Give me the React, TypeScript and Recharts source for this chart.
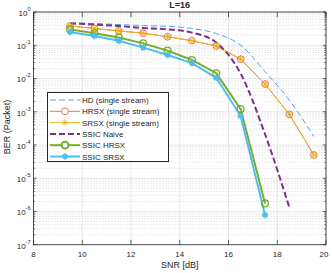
import { LineChart, Line, XAxis, YAxis, CartesianGrid, ReferenceLine } from 'recharts'

const snr = [9.5, 10.5, 11.5, 12.5, 13.5, 14.5, 15.5, 16.5, 17.5, 18.5, 19.5]
const hd = [0.47, 0.45, 0.42, 0.39, 0.37, 0.32, 0.225, 0.1, 0.016, 0.0022, 0.00018]
const hrsx = [0.38, 0.32, 0.27, 0.23, 0.18, 0.137, 0.095, 0.038, 0.0068, 0.00083, 0.00005]
const srsx = [0.38, 0.32, 0.27, 0.23, 0.18, 0.137, 0.095, 0.038, 0.0068, 0.00083, 0.00005]
const ssicNaive = [0.45, 0.42, 0.38, 0.33, 0.3, 0.24, 0.12, 0.014, 0.00021, 0.0000013, null]
const ssicHrsx = [0.3, 0.23, 0.17, 0.114, 0.069, 0.036, 0.0144, 0.0012, 0.00000175, null, null]
const ssicSrsx = [0.25, 0.19, 0.137, 0.085, 0.051, 0.029, 0.0105, 0.00074, 0.00000078, null, null]

const xTicks = [8, 10, 12, 14, 16, 18, 20]
const yTicks = [1e-7, 1e-6, 1e-5, 1e-4, 1e-3, 1e-2, 1e-1, 1]

const C = {
  hd: '#4DA6E8',
  hrsx: '#E8784A',
  srsx: '#EDB120',
  naive: '#7E2F8E',
  ssicH: '#77AC30',
  ssicS: '#4DBEEE',
  axis: '#262626',
  grid: '#e3e3e3',
  minor: '#cfcfcf',
}
const FONT = '"Liberation Sans", Arial, Helvetica, sans-serif'

const data = snr.map((s, i) => ({
  snr: s,
  hd: hd[i],
  hrsx: hrsx[i],
  srsx: srsx[i],
  naive: ssicNaive[i],
  ssicH: ssicHrsx[i],
  ssicS: ssicSrsx[i],
}))

// minor decade values 2..9 x 10^k
const minorY: number[] = []
for (let k = -7; k < 0; k++) for (let m = 2; m <= 9; m++) minorY.push(m * Math.pow(10, k))

function Circle(color: string, w = 1) {
  return (p: any) => {
    if (p.cx == null || p.cy == null || p.value == null) return <g key={p.key ?? p.index} />
    return <circle key={p.key ?? p.index} cx={p.cx} cy={p.cy} r={3.4} fill="none" stroke={color} strokeWidth={w} />
  }
}

function starPath(cx: number, cy: number, r: number) {
  const d = r * 0.707
  return `M${cx - r},${cy}L${cx + r},${cy}M${cx},${cy - r}L${cx},${cy + r}M${cx - d},${cy - d}L${cx + d},${cy + d}M${cx - d},${cy + d}L${cx + d},${cy - d}`
}

function Star(color: string, w = 1, fill = false) {
  return (p: any) => {
    if (p.cx == null || p.cy == null || p.value == null) return <g key={p.key ?? p.index} />
    return (
      <g key={p.key ?? p.index}>
        {fill && <circle cx={p.cx} cy={p.cy} r={2.4} fill={color} />}
        <path d={starPath(p.cx, p.cy, 3.2)} stroke={color} strokeWidth={w} fill="none" />
      </g>
    )
  }
}

function YTick({ x, y, payload }: any) {
  const e = Math.round(Math.log10(payload.value))
  return (
    <text x={x - 3} y={y + 4} textAnchor="end" fill={C.axis} fontSize={8} fontFamily={FONT}>
      10
      <tspan dy={-5} fontSize={5.5}>{e}</tspan>
    </text>
  )
}

function XTick({ x, y, payload }: any) {
  return (
    <text x={x} y={y + 12} textAnchor="middle" fill={C.axis} fontSize={8} fontFamily={FONT}>
      {payload.value}
    </text>
  )
}

const LEGEND = [
  { label: 'HD (single stream)', color: C.hd, dash: '6 3', w: 1, marker: 'none' },
  { label: 'HRSX (single stream)', color: C.hrsx, dash: '', w: 1, marker: 'circle' },
  { label: 'SRSX (single stream)', color: C.srsx, dash: '', w: 1, marker: 'star' },
  { label: 'SSIC Naive', color: C.naive, dash: '6 3', w: 2, marker: 'none' },
  { label: 'SSIC HRSX', color: C.ssicH, dash: '', w: 2, marker: 'circle' },
  { label: 'SSIC SRSX', color: C.ssicS, dash: '', w: 2, marker: 'starfill' },
]

function LegendBox() {
  return (
    <div
      style={{
        position: 'absolute',
        left: 47,
        top: 92,
        width: 122,
        height: 70,
        boxSizing: 'border-box',
        border: `0.8px solid ${C.axis}`,
        background: '#fff',
      }}
    >
      <svg width={122} height={70} style={{ position: 'absolute', left: -0.8, top: -0.8 }}>
        {LEGEND.map((l, i) => {
          const cy = 8 + i * 11.3
          return (
            <g key={l.label}>
              <line x1={3} x2={33} y1={cy} y2={cy} stroke={l.color} strokeWidth={l.w} strokeDasharray={l.dash || undefined} />
              {l.marker === 'circle' && <circle cx={18} cy={cy} r={3.4} fill="#fff" stroke={l.color} strokeWidth={l.w} />}
              {l.marker === 'star' && <path d={starPath(18, cy, 3.2)} stroke={l.color} strokeWidth={1} />}
              {l.marker === 'starfill' && (
                <g>
                  <circle cx={18} cy={cy} r={2.4} fill={l.color} />
                  <path d={starPath(18, cy, 3.2)} stroke={l.color} strokeWidth={1.5} />
                </g>
              )}
              <text x={35} y={cy + 3} fontSize={8} fontFamily={FONT} fill={C.axis}>
                {l.label}
              </text>
            </g>
          )
        })}
      </svg>
    </div>
  )
}

export default function App() {
  return (
    <div style={{ position: 'absolute', left: 0, top: 0, width: 332, height: 273, background: '#fff' }}>
      <LineChart width={332} height={273} data={data} margin={{ top: 12, right: 6, bottom: 0, left: 0 }}>
        <CartesianGrid stroke={C.grid} strokeWidth={0.8} />
        {minorY.map((v) => (
          <ReferenceLine key={v} y={v} stroke={C.minor} strokeWidth={0.8} strokeDasharray="1 2" />
        ))}
        {minorY.map((v) => (
          <ReferenceLine
            key={'tl' + v}
            segment={[{ x: 8, y: v }, { x: 8.07, y: v }]}
            stroke={C.axis}
            strokeWidth={0.6}
          />
        ))}
        {minorY.map((v) => (
          <ReferenceLine
            key={'tr' + v}
            segment={[{ x: 19.93, y: v }, { x: 20, y: v }]}
            stroke={C.axis}
            strokeWidth={0.6}
          />
        ))}
        {yTicks.map((v) => (
          <ReferenceLine key={'ml' + v} segment={[{ x: 8, y: v }, { x: 8.13, y: v }]} stroke={C.axis} strokeWidth={0.7} />
        ))}
        {yTicks.map((v) => (
          <ReferenceLine key={'mr' + v} segment={[{ x: 19.87, y: v }, { x: 20, y: v }]} stroke={C.axis} strokeWidth={0.7} />
        ))}
        {xTicks.map((v) => (
          <ReferenceLine key={'xb' + v} segment={[{ x: v, y: 1e-7 }, { x: v, y: 1.4e-7 }]} stroke={C.axis} strokeWidth={0.7} />
        ))}
        {xTicks.map((v) => (
          <ReferenceLine key={'xt' + v} segment={[{ x: v, y: 0.7 }, { x: v, y: 1 }]} stroke={C.axis} strokeWidth={0.7} />
        ))}
        <ReferenceLine y={1} stroke={C.axis} strokeWidth={0.8} />
        <ReferenceLine x={20} stroke={C.axis} strokeWidth={0.8} />
        <XAxis
          type="number"
          dataKey="snr"
          domain={[8, 20]}
          ticks={xTicks}
          allowDataOverflow
          height={28.3}
          tickSize={0}
          tickMargin={0}
          tickLine={false}
          axisLine={{ stroke: C.axis, strokeWidth: 0.8 }}
          tick={<XTick />}
          label={{ value: 'SNR [dB]', position: 'insideBottom', offset: 5, fill: C.axis, fontSize: 9, fontFamily: FONT }}
        />
        <YAxis
          type="number"
          scale="log"
          domain={[1e-7, 1]}
          ticks={yTicks}
          allowDataOverflow
          width={33.5}
          tickSize={0}
          tickMargin={0}
          tickLine={false}
          axisLine={{ stroke: C.axis, strokeWidth: 0.8 }}
          tick={<YTick />}
          label={{
            value: 'BER (Packet)',
            angle: -90,
            position: 'insideLeft',
            offset: 7,
            dy: 26,
            fill: C.axis,
            fontSize: 9,
            fontFamily: FONT,
          }}
        />
        <Line
          dataKey="hd"
          type="monotone"
          stroke={C.hd}
          strokeWidth={1}
          strokeDasharray="6 3"
          dot={false}
          isAnimationActive={false}
        />
        <Line
          dataKey="hrsx"
          type="linear"
          stroke={C.hrsx}
          strokeWidth={1}
          dot={Circle(C.hrsx, 1)}
          isAnimationActive={false}
        />
        <Line
          dataKey="srsx"
          type="linear"
          stroke={C.srsx}
          strokeWidth={1}
          dot={Star(C.srsx, 1)}
          isAnimationActive={false}
        />
        <Line
          dataKey="naive"
          type="monotone"
          stroke={C.naive}
          strokeWidth={2}
          strokeDasharray="6 3"
          dot={false}
          isAnimationActive={false}
        />
        <Line
          dataKey="ssicH"
          type="linear"
          stroke={C.ssicH}
          strokeWidth={2}
          dot={Circle(C.ssicH, 1.3)}
          isAnimationActive={false}
        />
        <Line
          dataKey="ssicS"
          type="linear"
          stroke={C.ssicS}
          strokeWidth={2}
          dot={Star(C.ssicS, 1.5, true)}
          isAnimationActive={false}
        />
      </LineChart>
      <div
        style={{
          position: 'absolute',
          left: 0,
          width: 332,
          top: 0,
          paddingLeft: 33.5,
          paddingRight: 6,
          boxSizing: 'border-box',
          textAlign: 'center',
          fontFamily: FONT,
          fontWeight: 'bold',
          fontSize: 9,
          lineHeight: '10px',
          color: C.axis,
        }}
      >
        L=16
      </div>
      <LegendBox />
    </div>
  )
}
